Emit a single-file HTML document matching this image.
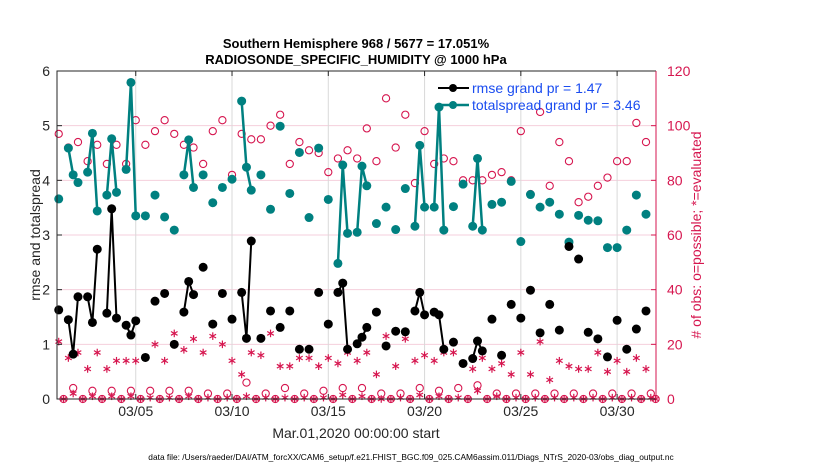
<!DOCTYPE html>
<html><head><meta charset="utf-8"><style>
body{margin:0;background:#fff;}
svg{display:block;font-family:"Liberation Sans",Arial,sans-serif;}
</style></head><body>
<svg id="chart" width="830" height="470" viewBox="0 0 830 470" xmlns="http://www.w3.org/2000/svg">
<text x="356" y="48" text-anchor="middle" font-size="13" font-weight="bold">Southern Hemisphere 968 / 5677 = 17.051%</text>
<text x="356" y="64" text-anchor="middle" font-size="13" font-weight="bold">RADIOSONDE_SPECIFIC_HUMIDITY @ 1000 hPa</text>
<g id="grid"></g>
<g id="marks"></g>
<g id="axes"></g>
<text transform="translate(40,235) rotate(-90)" text-anchor="middle" font-size="14" fill="#262626">rmse and totalspread</text>
<text transform="translate(701,235) rotate(-90)" text-anchor="middle" font-size="14" fill="#d6164f"># of obs: o=possible; *=evaluated</text>
<text x="356" y="438" text-anchor="middle" font-size="14" fill="#262626">Mar.01,2020 00:00:00 start</text>
<text x="411" y="460" text-anchor="middle" font-size="8.4" fill="#000">data file: /Users/raeder/DAI/ATM_forcXX/CAM6_setup/f.e21.FHIST_BGC.f09_025.CAM6assim.011/Diags_NTrS_2020-03/obs_diag_output.nc</text>
<g>
<line x1="438" y1="88" x2="469" y2="88" stroke="#000" stroke-width="2"/>
<circle cx="453" cy="88" r="4" fill="#000"/>
<text x="472" y="93" font-size="14" fill="#1a4cf0">rmse grand pr = 1.47</text>
<line x1="438" y1="105" x2="469" y2="105" stroke="#008080" stroke-width="2.5"/>
<circle cx="453" cy="105" r="4" fill="#008080"/>
<text x="472" y="110" font-size="14" fill="#1a4cf0">totalspread grand pr = 3.46</text>
</g>
</svg>
<script>
// 6-hourly bins starting Mar 01 00:00 (bin index i -> day i*0.25)
const rmse = [1.63,null,1.45,0.82, 1.87,null,1.87,1.40, 2.74,null,1.57,3.48, 1.48,null,1.35,1.17,
 1.43,null,0.76,null, 1.79,null,1.93,null, 1.00,null,1.59,2.15, 1.91,null,2.41,null,
 1.37,null,1.93,null, 1.46,null,1.95,1.11, 2.89,null,1.11,null, 1.61,null,1.31,null,
 1.61,null,0.91,null, 0.91,null,1.95,null, 1.37,null,1.95,2.12, 0.91,null,1.01,1.13,
 1.31,null,1.59,null, 0.97,null,1.24,null, 1.23,null,1.61,1.95, 1.54,null,1.59,1.54,
 0.91,null,1.04,null, 0.65,null,0.74,1.06, 0.88,null,1.46,null, 0.80,null,1.73,null,
 1.48,null,1.99,null, 1.21,null,1.73,null, 1.26,null,2.79,null, 2.56,null,1.22,null,
 1.10,null,0.77,null, 1.44,null,0.91,null, 1.28,null,1.61,null, null];
const spread = [3.66,null,4.59,4.10, 3.96,null,4.15,4.86, 3.44,null,3.73,4.76, 3.78,null,4.20,5.79,
 3.35,null,3.35,null, 3.73,null,3.33,null, 3.09,null,4.10,4.74, 3.87,null,4.10,null,
 3.59,null,3.87,null, 4.02,null,5.45,4.24, 3.82,null,4.10,null, 3.47,null,4.99,null,
 3.76,null,4.51,null, 3.32,null,4.59,null, 3.65,null,2.48,4.28, 3.03,null,3.05,4.26,
 3.90,null,3.21,null, 3.51,null,3.10,null, 3.85,null,3.16,4.64, 3.51,null,3.51,5.34,
 3.09,null,3.52,null, 3.93,null,3.16,4.40, 3.09,null,3.56,null, 3.60,null,3.98,null,
 2.88,null,3.74,null, 3.51,null,3.60,null, 3.38,null,2.87,null, 3.36,null,3.27,null,
 3.26,null,2.77,null, 2.77,null,3.09,null, 3.73,null,3.38,null, null];
const possible = [97,0,92,4, 94,0,87,3, 93,0,86,3, 93,0,86,3, 102,0,93,3, 98,0,102,3, 97,0,93,3, 92,0,86,2,
 98,0,102,2, 82,0,97,6, 95,0,95,2, 100,0,104,4, 86,0,94,2, 91,0,90,3, 83,0,88,4, 91,0,88,4,
 99,0,87,2, 110,0,92,2, 104,0,79,4, 98,0,86,3, 88,0,87,4, 80,0,80,5, 80,0,82,2, 83,0,80,2,
 98,0,75,2, 105,0,78,2, 94,0,87,2, 72,0,74,2, 78,0,81,2, 87,0,87,2, 101,0,94,2, 0];
const evaluated = [21,0,15,2, 17,0,11,1, 17,0,11,1, 14,0,14,1, 14,0,15,0.5, 20,0,14,0.5, 24,0,18,1, 22,0,17,0.5,
 23,0,20,0.5, 14,0,9,1, 17,0,16,0.5, 24,0,12,0.5, 12,0,15,0.5, 15,0,12,0.5, 15,0,13,1.5, 17,0,14,1,
 17,0,9,0, 23,0,12,0.5, 22,0,14,1.5, 16,0,14,1, 17,0,17,0.5, 13,0,11,3, 15,0,11,1, 13,0,9,0.5,
 17,0,9,0.5, 21,0,7,0.5, 14,0,12,0.5, 11,0,11,0.5, 17,0,10,0.5, 14,0,10,0.5, 15,0,11,0.5, 0];
const leftTicks = [0,1,2,3,4,5,6];
const rightTicks = [0,20,40,60,80,100,120];
const dateTicks = [4,9,14,19,24,29];
const dateLabels = ["03/05","03/10","03/15","03/20","03/25","03/30"];

const NS="http://www.w3.org/2000/svg";
const X0=57, X1=656, Y0=399, Y1=71;
const DMIN=-0.09, DMAX=31.02;
function xDay(d){return X0+(d-DMIN)/(DMAX-DMIN)*(X1-X0);}
function xBin(i){return xDay(i*0.25);}
function yL(v){return Y0-(v/6)*(Y0-Y1);}
function yR(v){return Y0-(v/120)*(Y0-Y1);}
function mk(tag,attrs,parent){const e=document.createElementNS(NS,tag);for(const k in attrs)e.setAttribute(k,attrs[k]);parent.appendChild(e);return e;}
const grid=document.getElementById('grid'), marks=document.getElementById('marks'), axes=document.getElementById('axes');
const PINK="#d6164f", TEAL="#008080";

leftTicks.forEach((t,k)=>{
  if(t>0&&t<6){const g=mk('line',{x1:X0,x2:X1,y1:yL(t),y2:yL(t),stroke:'#f4cfdc','stroke-width':1},grid);
  
  }
  const lb=mk('text',{x:X0-7,y:yL(t)+5,'text-anchor':'end','font-size':14,fill:'#262626'},axes);
  lb.textContent=t;
  
  
  mk('line',{x1:X0,x2:X0+5,y1:yL(t),y2:yL(t),stroke:'#262626'},axes);
});
rightTicks.forEach(t=>{
  const lb=mk('text',{x:X1+11,y:yR(t)+5,'text-anchor':'start','font-size':14,fill:PINK},axes);
  lb.textContent=t;
  
  
  mk('line',{x1:X1-5,x2:X1,y1:yR(t),y2:yR(t),stroke:PINK},axes);
});
dateTicks.forEach((d,k)=>{
  const g=mk('line',{x1:xDay(d),x2:xDay(d),y1:Y1,y2:Y0,stroke:'#d9d9d9','stroke-width':1},grid);
  
  
  const lb=mk('text',{x:xDay(d),y:416,'text-anchor':'middle','font-size':14,fill:'#262626'},axes);
  lb.textContent=dateLabels[k];
  
  
  mk('line',{x1:xDay(d),x2:xDay(d),y1:Y0,y2:Y0-5,stroke:'#262626'},axes);
  mk('line',{x1:xDay(d),x2:xDay(d),y1:Y1,y2:Y1+5,stroke:'#262626'},axes);
});
mk('path',{d:`M${X1},${Y1} L${X0},${Y1} L${X0},${Y0} L${X1},${Y0}`,fill:'none',stroke:'#262626','stroke-width':1},axes);
mk('line',{x1:X1,x2:X1,y1:Y1,y2:Y0,stroke:PINK,'stroke-width':1},axes);

function star(cx,cy,s,parent){
  const g=mk('g',{stroke:PINK,'stroke-width':1.2},parent);
  
  
  mk('line',{x1:cx,x2:cx,y1:cy-s,y2:cy+s},g);
  mk('line',{x1:cx-s*0.87,x2:cx+s*0.87,y1:cy-s*0.5,y2:cy+s*0.5},g);
  mk('line',{x1:cx-s*0.87,x2:cx+s*0.87,y1:cy+s*0.5,y2:cy-s*0.5},g);
}
possible.forEach((v,i)=>{
  if(v===null)return;
  const c=mk('circle',{cx:xBin(i),cy:yR(v),r:3.6,fill:'none',stroke:PINK,'stroke-width':1.1},marks);
  
  
});
evaluated.forEach((v,i)=>{ if(v===null)return; star(xBin(i),yR(v),3.8,marks); });

function series(arr,color,lw,r,name){
  let seg=[];
  const flush=()=>{ if(seg.length>1){const p=mk('polyline',{points:seg.join(' '),fill:'none',stroke:color,'stroke-width':lw,'stroke-linejoin':'round'},marks);
    
    } seg=[]; };
  arr.forEach((v,i)=>{ if(v===null){flush();return;} seg.push(xBin(i)+','+yL(v)); });
  flush();
  arr.forEach((v,i)=>{ if(v===null)return;
    const c=mk('circle',{cx:xBin(i),cy:yL(v),r:r,fill:color},marks);
    
    
  });
}
series(spread,TEAL,2.5,4.5,'totalspread');
series(rmse,'#000',2,4.5,'rmse');
</script>
</body></html>
